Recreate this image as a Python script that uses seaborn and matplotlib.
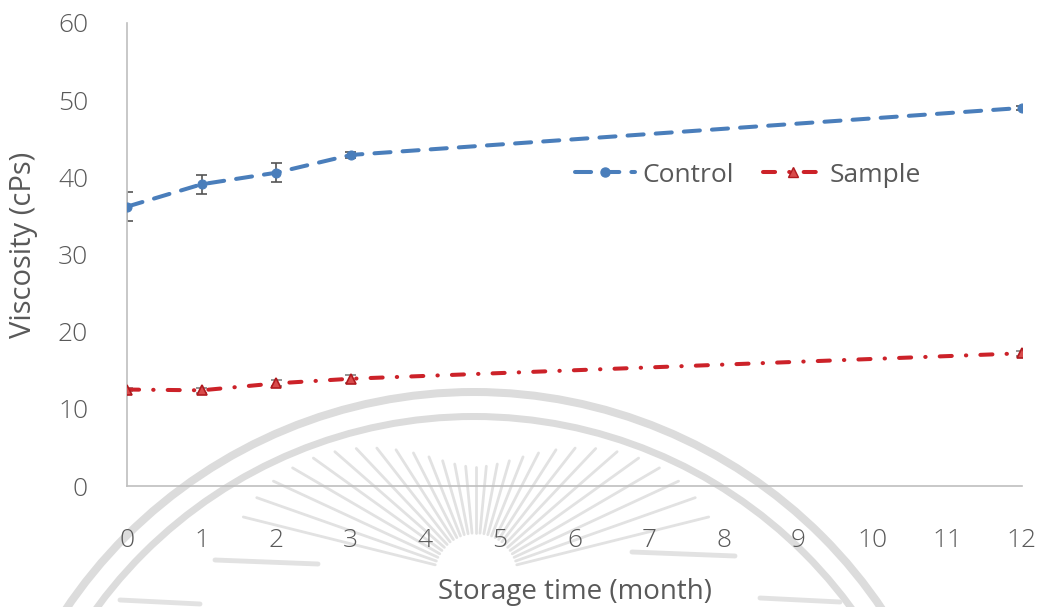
import numpy as np
import pandas as pd
import matplotlib
matplotlib.use("Agg")
import matplotlib.pyplot as plt
from matplotlib.lines import Line2D
from matplotlib.patches import Wedge
import seaborn as sns

# Storage-time series (months) with mean viscosity and standard deviation
months_control = [0, 1, 2, 3, 12]
visc_control = [36.2, 39.1, 40.6, 42.9, 49.0]
sd_control = [1.9, 1.2, 1.2, 0.4, 0.3]

months_sample = [0, 1, 2, 3, 12]
visc_sample = [12.5, 12.4, 13.3, 13.9, 17.2]
sd_sample = [0.2, 0.3, 0.4, 0.5, 0.3]

groups = ["Control", "Sample"]
x_ticks = list(range(0, 13))
y_ticks = [0, 10, 20, 30, 40, 50, 60]

df = pd.DataFrame({
    "month": months_control + months_sample,
    "viscosity": visc_control + visc_sample,
    "sd": sd_control + sd_sample,
    "group": [groups[0]] * len(months_control) + [groups[1]] * len(months_sample),
})

BLUE = "#4A7EBB"
RED = "#CC2229"
RED_FACE = "#D84B4B"
RED_EDGE = "#B01A1F"
TXT = "#595959"
AXIS = "#BFBFBF"

sns.set_style("white")
plt.rcParams["font.family"] = ["Open Sans", "DejaVu Sans"]

W, H, DPI = 1043, 607, 100
fig = plt.figure(figsize=(W / DPI, H / DPI), dpi=DPI)

# Faint seal in the background (pixel coordinates, y pointing down)
bg = fig.add_axes([0, 0, 1, 1], zorder=0)
bg.set_xlim(0, W)
bg.set_ylim(H, 0)
bg.axis("off")
seal = "#dcdcdc"
cx, cy = 474, 884
bg.add_patch(Wedge((cx, cy), 496, 180, 360, width=8, color=seal, lw=0))
bg.add_patch(Wedge((cx, cy), 471, 180, 360, width=7, color=seal, lw=0))
sun = (476, 575)
ray_col = "#e2e2e2"
for ang in np.linspace(14, 166, 29):
    t = np.deg2rad(ang)
    r_in = 42
    r_out = 108 + 140 * abs(np.cos(t)) ** 2
    bg.plot([sun[0] + r_in * np.cos(t), sun[0] + r_out * np.cos(t)],
            [sun[1] - r_in * np.sin(t), sun[1] - r_out * np.sin(t)],
            color=ray_col, lw=2.0, solid_capstyle="round")
for x0, x1, yy in [(215, 318, 560), (632, 735, 552), (120, 200, 600), (760, 840, 598)]:
    bg.plot([x0, x1], [yy, yy + 4], color=ray_col, lw=3.5, solid_capstyle="round")

ax = fig.add_axes([127 / W, 1 - 486 / H, (1022 - 127) / W, (486 - 23) / H], zorder=1)
ax.patch.set_alpha(0)

# Error bars beneath the lines; caps drawn as short horizontal segments
cap_half = 0.075
for g, col in zip(groups, ["#555555", "#7f7f7f"]):
    sub = df[df["group"] == g]
    ax.errorbar(sub["month"], sub["viscosity"], yerr=sub["sd"], fmt="none",
                ecolor=col, elinewidth=1.2, capsize=0, zorder=2)
    for y_end in (sub["viscosity"] - sub["sd"], sub["viscosity"] + sub["sd"]):
        ax.hlines(y_end, sub["month"] - cap_half, sub["month"] + cap_half,
                  colors=col, linewidth=1.2, zorder=2)

n_before = len(ax.lines)
sns.lineplot(
    data=df, x="month", y="viscosity", hue="group", style="group",
    palette={"Control": BLUE, "Sample": RED},
    dashes={"Control": (4, 3), "Sample": (3, 3.5, 0.1, 3.5)},
    markers={"Control": "o", "Sample": "^"},
    linewidth=2.9, markersize=6.5, legend=False, ax=ax, zorder=3,
)
for line in ax.lines[n_before:]:
    line.set_dash_capstyle("round")
    if line.get_marker() == "^":
        line.set_markeredgecolor(RED_EDGE)
        line.set_markerfacecolor(RED_FACE)
        line.set_markeredgewidth(1.2)
    else:
        line.set_markeredgecolor(BLUE)

ax.set_xlim(0, 12)
ax.set_ylim(0, 60)
ax.set_xticks(x_ticks)
ax.set_yticks(y_ticks)
ax.tick_params(axis="both", length=0, labelcolor=TXT, labelsize=19)
ax.tick_params(axis="x", pad=30)
ax.tick_params(axis="y", pad=28)
for lab in ax.get_xticklabels() + ax.get_yticklabels():
    lab.set_fontweight("light")

for s in ["top", "right"]:
    ax.spines[s].set_visible(False)
for s in ["left", "bottom"]:
    ax.spines[s].set_color(AXIS)
    ax.spines[s].set_linewidth(1.2)

ax.set_xlabel("Storage time (month)", fontsize=20, color=TXT, labelpad=18)
ax.set_ylabel("Viscosity (cPs)", fontsize=21, color=TXT)
ax.yaxis.set_label_coords(-0.099, 0.52)

handles = [
    Line2D([], [], color=BLUE, lw=2.9, dashes=(4, 3), dash_capstyle="round",
           marker="o", markersize=6.5, markeredgecolor=BLUE),
    Line2D([], [], color=RED, lw=2.9, dashes=(3, 3.5, 0.1, 3.5), dash_capstyle="round",
           marker="^", markersize=6.5, markerfacecolor=RED_FACE, markeredgecolor=RED_EDGE),
]
fig.legend(handles, groups, loc="center", bbox_to_anchor=(748 / W, 1 - 175 / H),
           ncol=2, frameon=False, fontsize=19, handlelength=2.3,
           handletextpad=0.25, columnspacing=1.1, labelcolor=TXT)

fig.savefig("out.png", dpi=DPI)
